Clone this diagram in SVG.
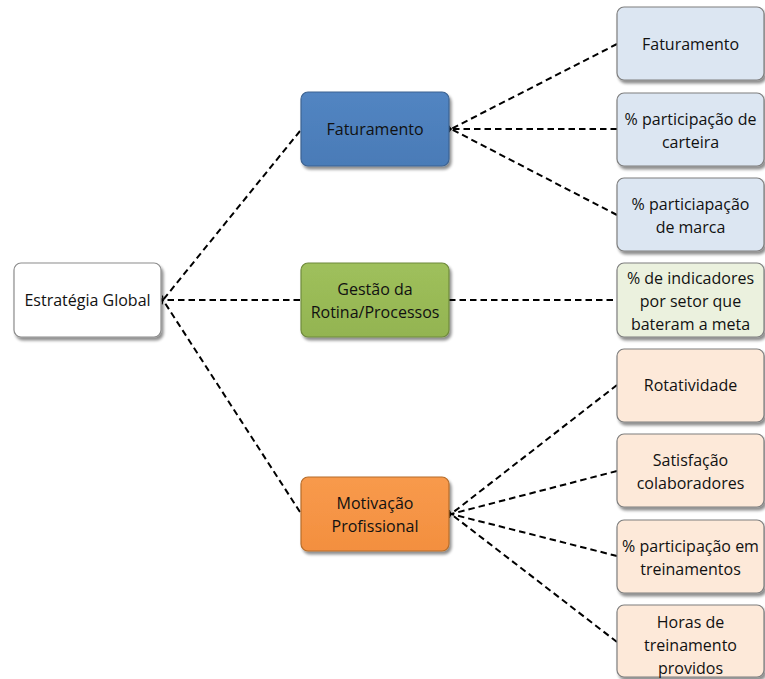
<svg xmlns="http://www.w3.org/2000/svg" width="765" height="679" viewBox="0 0 765 679">
  <defs>
    <filter id="shadow" x="-10%" y="-10%" width="125%" height="130%">
      <feGaussianBlur in="SourceAlpha" stdDeviation="1.6"/>
      <feOffset dx="1.5" dy="2.5" result="off"/>
      <feComponentTransfer><feFuncA type="linear" slope="0.45"/></feComponentTransfer>
      <feMerge><feMergeNode/><feMergeNode in="SourceGraphic"/></feMerge>
    </filter>
    <linearGradient id="gBlue" x1="0" y1="0" x2="0" y2="1">
      <stop offset="0" stop-color="#5285c2"/><stop offset="1" stop-color="#4a7bb7"/>
    </linearGradient>
    <linearGradient id="gGreen" x1="0" y1="0" x2="0" y2="1">
      <stop offset="0" stop-color="#9fc05c"/><stop offset="1" stop-color="#93b451"/>
    </linearGradient>
    <linearGradient id="gOrange" x1="0" y1="0" x2="0" y2="1">
      <stop offset="0" stop-color="#f89a4c"/><stop offset="1" stop-color="#f38f3f"/>
    </linearGradient>
    <marker id="arrow" viewBox="0 0 10 10" refX="1" refY="5" markerWidth="5" markerHeight="5" markerUnits="userSpaceOnUse" orient="auto">
      <path d="M9,1 L1,5 L9,9" fill="none" stroke="#000" stroke-width="2.4"/>
    </marker>
    <style>
      .box { filter: url(#shadow); stroke-width: 1.2; }
      .root { fill: #ffffff; stroke: #8c8c8c; }
      .blue { fill: url(#gBlue); stroke: #3d6392; }
      .green { fill: url(#gGreen); stroke: #6f8a3c; }
      .orange { fill: url(#gOrange); stroke: #b66d2b; }
      .lblue { fill: #dce6f2; stroke: #7f7f7f; }
      .lgreen { fill: #ebf1de; stroke: #7f7f7f; }
      .lorange { fill: #fde9d9; stroke: #7f7f7f; }
      text { font-family: "Open Sans", "Liberation Sans", sans-serif; font-size: 16px; fill: #111; text-anchor: middle; }
      .conn line { stroke: #000; stroke-width: 2; stroke-dasharray: 6.5 4; fill: none; }
    </style>
  </defs>

  <!-- connectors -->
  <g id="connectors" class="conn">
    <line x1="300" y1="131" x2="163" y2="300" marker-end="url(#arrow)"/>
    <line x1="300" y1="300" x2="163" y2="300" marker-end="url(#arrow)"/>
    <line x1="300" y1="512" x2="163" y2="300" marker-end="url(#arrow)"/>

    <line x1="617" y1="44" x2="451" y2="129" marker-end="url(#arrow)"/>
    <line x1="617" y1="129" x2="451" y2="129" marker-end="url(#arrow)"/>
    <line x1="617" y1="215" x2="451" y2="129" marker-end="url(#arrow)"/>

    <line x1="449" y1="300" x2="617" y2="300"/>

    <line x1="617" y1="385" x2="451" y2="514" marker-end="url(#arrow)"/>
    <line x1="617" y1="471" x2="451" y2="514" marker-end="url(#arrow)"/>
    <line x1="617" y1="556" x2="451" y2="514" marker-end="url(#arrow)"/>
    <line x1="617" y1="642" x2="451" y2="514" marker-end="url(#arrow)"/>
  </g>

  <!-- root -->
  <g id="estrategia-global">
    <rect class="box root" x="14" y="263" width="147" height="74" rx="7"/>
    <text x="87.5" y="306">Estratégia Global</text>
  </g>

  <!-- second level -->
  <g id="faturamento">
    <rect class="box blue" x="301" y="92" width="148" height="74" rx="7"/>
    <text x="375" y="135">Faturamento</text>
  </g>
  <g id="gestao-rotina">
    <rect class="box green" x="301" y="263" width="148" height="74" rx="7"/>
    <text x="375" y="294.5">Gestão da</text>
    <text x="375" y="317.5">Rotina/Processos</text>
  </g>
  <g id="motivacao">
    <rect class="box orange" x="301" y="477" width="148" height="74" rx="7"/>
    <text x="375" y="508.5">Motivação</text>
    <text x="375" y="531.5">Profissional</text>
  </g>

  <!-- indicators -->
  <g id="ind-faturamento">
    <rect class="box lblue" x="617" y="7" width="147" height="73" rx="7"/>
    <text x="690.5" y="49.5">Faturamento</text>
  </g>
  <g id="ind-carteira">
    <rect class="box lblue" x="617" y="93" width="147" height="73" rx="7"/>
    <text x="690.5" y="124.5">% participação de</text>
    <text x="690.5" y="147.5">carteira</text>
  </g>
  <g id="ind-marca">
    <rect class="box lblue" x="617" y="178" width="147" height="73" rx="7"/>
    <text x="690.5" y="209.5">% particiapação</text>
    <text x="690.5" y="232.5">de marca</text>
  </g>
  <g id="ind-metas">
    <rect class="box lgreen" x="617" y="263" width="147" height="74" rx="7"/>
    <text x="690.5" y="283.5">% de indicadores</text>
    <text x="690.5" y="306.5">por setor que</text>
    <text x="690.5" y="329.5">bateram a meta</text>
  </g>
  <g id="ind-rotatividade">
    <rect class="box lorange" x="617" y="349" width="147" height="73" rx="7"/>
    <text x="690.5" y="390.5">Rotatividade</text>
  </g>
  <g id="ind-satisfacao">
    <rect class="box lorange" x="617" y="434" width="147" height="73" rx="7"/>
    <text x="690.5" y="465.5">Satisfação</text>
    <text x="690.5" y="488.5">colaboradores</text>
  </g>
  <g id="ind-treinamentos">
    <rect class="box lorange" x="617" y="520" width="147" height="73" rx="7"/>
    <text x="690.5" y="551.5">% participação em</text>
    <text x="690.5" y="574.5">treinamentos</text>
  </g>
  <g id="ind-horas">
    <rect class="box lorange" x="617" y="605" width="147" height="72" rx="7"/>
    <text x="690.5" y="627.5">Horas de</text>
    <text x="690.5" y="650.5">treinamento</text>
    <text x="690.5" y="673.5">providos</text>
  </g>
</svg>
